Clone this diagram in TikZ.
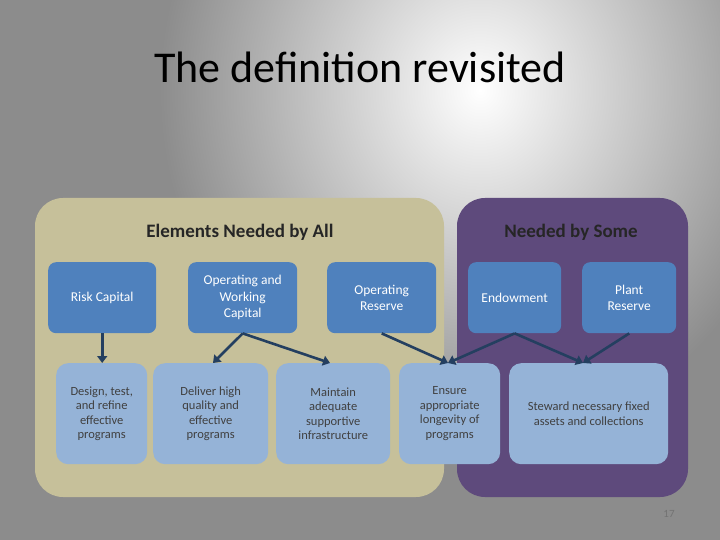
\documentclass[tikz,border=0pt]{standalone}
\usepackage{fontspec}
\setmainfont{Carlito}
\usetikzlibrary{arrows.meta}
\definecolor{tan}{HTML}{C6C09A}
\definecolor{purp}{HTML}{5E4A7C}
\definecolor{dblue}{HTML}{4F81BD}
\definecolor{lblue}{HTML}{95B3D7}
\definecolor{arr}{HTML}{243F60}
\begin{document}
\begin{tikzpicture}[x=1pt,y=-1pt,
  top/.style={draw=none,fill=dblue,rounded corners=8pt,text=white,font=\fontsize{13.5}{16.5}\selectfont,align=center,anchor=north west},
  bot/.style={draw=none,fill=lblue,rounded corners=12pt,text=black!75,font=\fontsize{12.5}{14.5}\selectfont,align=center,anchor=north west},
  con/.style={draw=arr,line width=2.6pt,-{Triangle[length=7pt,width=10pt]}}]
\useasboundingbox (0,0) rectangle (720,540);
\fill[black!45] (0,0) rectangle (720,540);
\shade[inner color=white,outer color=black!45] (160,-260) rectangle (800,440);
\node (title) at (360,67) {\fontsize{44}{50}\selectfont The definition revisited};
\path[fill=purp,rounded corners=28pt] (457,198) rectangle (688,497);
\path[fill=tan,rounded corners=28pt] (35,198) rectangle (444,497);
\node (h1) at (240,232) {\fontsize{19}{22}\selectfont\bfseries\color{black!85} Elements Needed by All};
\node (h2) at (571,232) {\fontsize{19}{22}\selectfont\bfseries\color{black!85} Needed by Some};
\node[top,minimum width=108pt,minimum height=71pt] (rc) at (48,262) {Risk Capital};
\node[top,minimum width=109pt,minimum height=71pt] (owc) at (188,262) {Operating and\\Working\\Capital};
\node[top,minimum width=109pt,minimum height=71pt] (or) at (327,262) {Operating\\Reserve};
\node[top,minimum width=93pt,minimum height=71pt] (en) at (468,262) {Endowment};
\node[top,minimum width=94pt,minimum height=71pt] (pr) at (582,262) {Plant\\Reserve};
\node[bot,minimum width=91pt,minimum height=101pt] (d) at (56,363) {Design, test,\\and refine\\effective\\programs};
\node[bot,minimum width=115pt,minimum height=101pt] (dl) at (153,363) {Deliver high\\quality and\\effective\\programs};
\node[bot,minimum width=114pt,minimum height=101pt] (m) at (276,363) {Maintain\\adequate\\supportive\\infrastructure};
\node[bot,minimum width=101pt,minimum height=101pt] (e) at (399,363) {Ensure\\appropriate\\longevity of\\programs};
\node[bot,minimum width=159pt,minimum height=101pt] (s) at (509,363) {Steward necessary fixed\\assets and collections};
\draw[con] (rc.south) -- (d.north -| rc.south);
\draw[con] (owc.south) -- (213,363);
\draw[con] (owc.south) -- (330,363);
\draw[con] (or.south) -- (448,363);
\draw[con] (en.south) -- (448,363);
\draw[con] (en.south) -- (583,363);
\draw[con] (pr.south) -- (583,363);
\node[text=black!55,font=\fontsize{11}{12}\selectfont] (pg) at (669,514) {17};
\end{tikzpicture}
\end{document}
